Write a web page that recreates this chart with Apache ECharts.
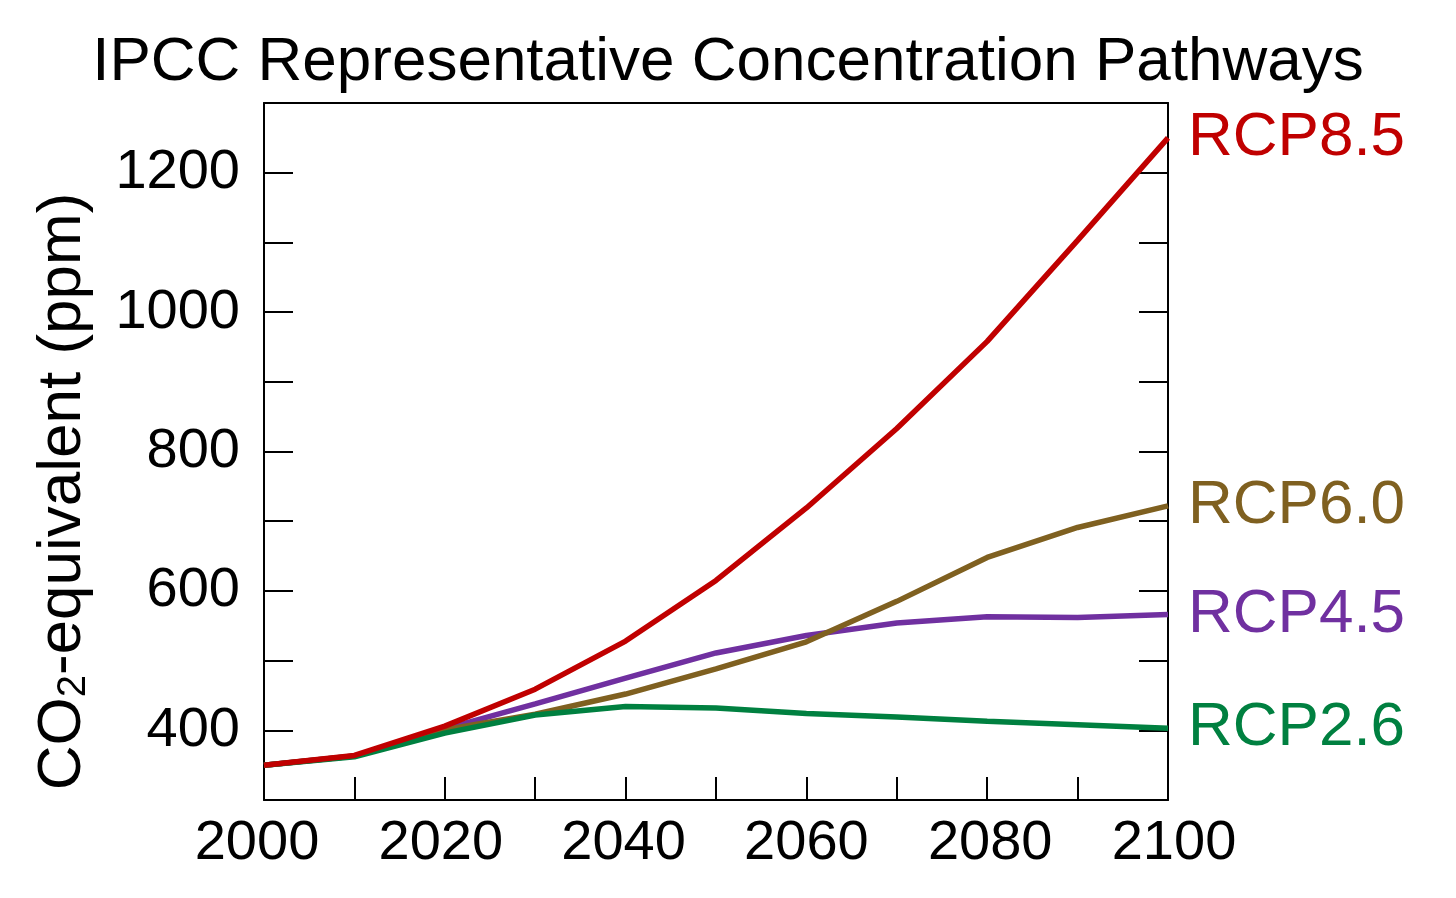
<!DOCTYPE html>
<html>
<head>
<meta charset="utf-8">
<script src="https://cdn.jsdelivr.net/npm/echarts@6/dist/echarts.min.js"></script>
<style>
html,body{margin:0;padding:0;background:#fff;}
#chart{width:1456px;height:898px;}
</style>
</head>
<body>
<div id="chart"></div>
<script>
const years = [2000, 2010, 2020, 2030, 2040, 2050, 2060, 2070, 2080, 2090, 2100];
const rcp85 = [350, 364, 406, 459, 528, 615, 719, 833, 958, 1103, 1250];
const rcp60 = [350, 363, 401, 423, 452, 488, 527, 585, 648, 691, 722];
const rcp45 = [350, 363, 402, 438, 475, 511, 536, 554, 563, 562, 566];
const rcp26 = [350, 362, 396, 422, 434, 432, 424, 419, 413, 408, 403];
const yTickLabels = [400, 600, 800, 1000, 1200];
const xTickLabels = [2000, 2020, 2040, 2060, 2080, 2100];

const FONT = 'Liberation Sans';
function pairs(vals){ return years.map((y,i)=>[y, vals[i]]); }
function mk(name, vals, color){
  return {
    name: name, type: 'line', data: pairs(vals), showSymbol: false,
    lineStyle: {color: color, width: 5.5}, itemStyle: {color: color},
    endLabel: {show: true, formatter: name, color: color, fontSize: 62,
      fontFamily: FONT, distance: 20},
    animation: false
  };
}
// slight per-label horizontal nudges matching the reference typesetting
const xLabelShift = [-7, -4, -2, 0, 3, 6];
const xRich = {};
xLabelShift.forEach((s, i) => {
  xRich['t' + i] = {fontFamily: FONT, fontSize: 56, color: '#000',
    padding: s < 0 ? [0, -2 * s, 0, 0] : [0, 0, 0, 2 * s]};
});
const chart = echarts.init(document.getElementById('chart'));
chart.setOption({
  backgroundColor: '#fff',
  animation: false,
  title: {
    text: 'IPCC Representative Concentration Pathways',
    left: 'center', top: 27,
    textStyle: {fontFamily: FONT, fontSize: 62, fontWeight: 'normal', color: '#000'}
  },
  grid: {left: 264, right: 288, top: 103, bottom: 98},
  xAxis: [{
    type: 'value', min: 2000, max: 2100, interval: 10, position: 'bottom',
    axisLine: {show: true, lineStyle: {color: '#000', width: 2}},
    axisTick: {show: true, inside: true, length: 23, lineStyle: {color: '#000', width: 2}},
    splitLine: {show: false},
    axisLabel: {
      margin: 16, fontFamily: FONT, fontSize: 56, color: '#000',
      showMinLabel: true, showMaxLabel: true,
      rich: xRich,
      formatter: v => {
        const i = xTickLabels.indexOf(v);
        return i >= 0 ? '{t' + i + '|' + v + '}' : '';
      }
    }
  }, {
    type: 'value', min: 2000, max: 2100, position: 'top',
    axisLine: {show: true, lineStyle: {color: '#000', width: 2}},
    axisTick: {show: false}, axisLabel: {show: false}, splitLine: {show: false}
  }],
  yAxis: [{
    type: 'value', min: 300, max: 1300, interval: 100, position: 'left',
    axisLine: {show: true, lineStyle: {color: '#000', width: 2}},
    axisTick: {show: true, inside: true, length: 29, lineStyle: {color: '#000', width: 2}},
    splitLine: {show: false},
    axisLabel: {
      margin: 24, fontFamily: FONT, fontSize: 56, color: '#000',
      formatter: v => yTickLabels.indexOf(v) >= 0 ? String(v) : ''
    },
    name: '{a|CO}{s|2}{a|-equivalent (ppm)}',
    nameLocation: 'middle', nameRotate: 90, nameGap: 170,
    nameTextStyle: {
      padding: [0, 80, 0, 0],
      rich: {
        a: {fontFamily: FONT, fontSize: 62, color: '#000', lineHeight: 70, verticalAlign: 'bottom'},
        s: {fontFamily: FONT, fontSize: 40, color: '#000', lineHeight: 36, verticalAlign: 'bottom'}
      }
    }
  }, {
    type: 'value', min: 300, max: 1300, interval: 100, position: 'right',
    axisLine: {show: true, lineStyle: {color: '#000', width: 2}},
    axisTick: {show: true, inside: true, length: 29, lineStyle: {color: '#000', width: 2}},
    axisLabel: {show: false}, splitLine: {show: false}
  }],
  series: [
    mk('RCP4.5', rcp45, '#7030a0'),
    mk('RCP6.0', rcp60, '#7f6020'),
    mk('RCP2.6', rcp26, '#008040'),
    mk('RCP8.5', rcp85, '#c00000')
  ]
});
</script>
</body>
</html>
